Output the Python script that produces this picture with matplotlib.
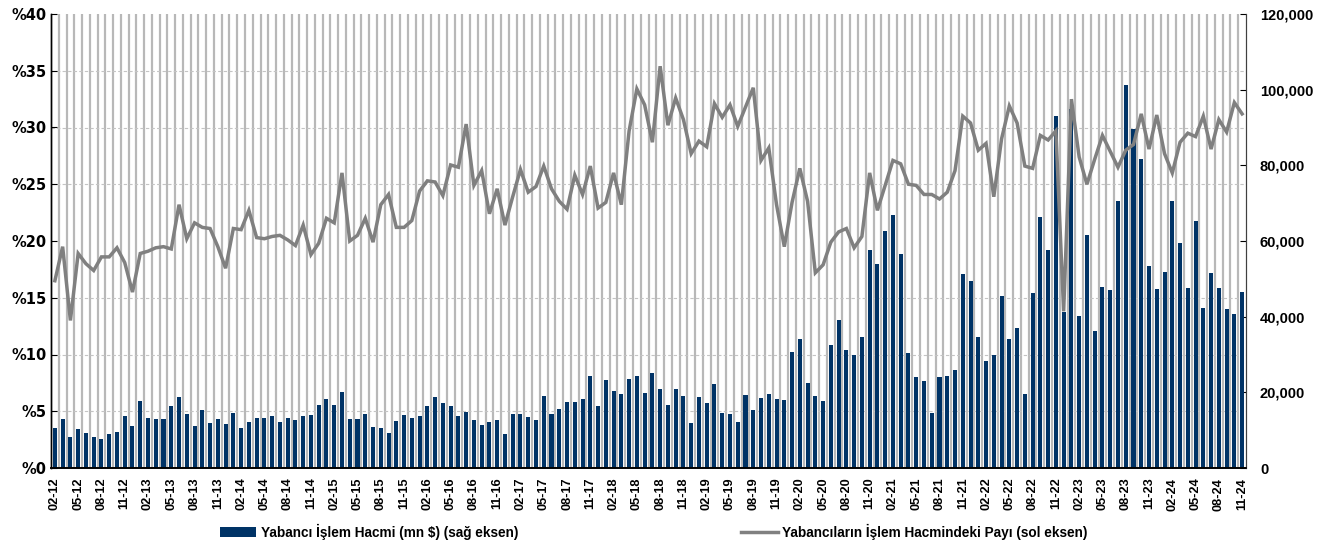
import numpy as np
import pandas as pd
import matplotlib
matplotlib.use("Agg")
import matplotlib.pyplot as plt
from matplotlib.ticker import MultipleLocator, FixedLocator, FuncFormatter

# monthly, 02-12 .. 11-24
months = pd.date_range("2012-02-01", periods=154, freq="MS").strftime("%m-%y").tolist()

# foreign trading volume, mn $ (right axis)
volume_mn_usd = [
    10660, 12950, 8280, 10310, 9160, 8280, 7660, 8900, 9430, 13830,
    11190, 17710, 13300, 12950, 12950, 16300, 18680, 14180, 11190, 15330,
    11800, 12950, 11540, 14540, 10660, 12070, 13300, 13300, 13650, 12070,
    13300, 12690, 13650, 13920, 16560, 18330, 16560, 20000, 12950, 12950,
    14180, 10930, 10660, 9160, 12340, 13920, 13300, 13650, 16300, 18680,
    17090, 16300, 13650, 14800, 12690, 11280, 12070, 12690, 8900, 14180,
    14180, 13570, 12690, 18940, 14180, 15680, 17440, 17440, 18330, 24230,
    16300, 23350, 20350, 19560, 23440, 24320, 19900, 25190, 20800, 16570,
    20800, 19030, 11900, 18770, 17260, 22280, 14540, 14270, 12160, 19200,
    15420, 18590, 19560, 18330, 18060, 30750, 34010, 22460, 18940, 17710,
    32510, 39030, 31100, 29870, 34620, 57620, 53830, 62720, 66870, 56560,
    30480, 23960, 23080, 14540, 23960, 24230, 25990, 51190, 49420, 34620,
    28370, 29870, 45550, 34010, 36910, 19560, 46160, 66260, 57620, 93120,
    41320, 95000, 40260, 61590, 36120, 47930, 47050, 70650, 101150, 89600,
    81580, 53390, 47310, 51800, 70650, 59390, 47660, 65370, 42290, 51450,
    47660, 42020, 40610, 46430,
]

# foreign share in trading volume, % (left axis)
foreign_share_pct = [
    16.5, 19.5, 13.0, 18.9, 18.0, 17.4, 18.6, 18.6, 19.4, 18.1,
    15.5, 18.9, 19.1, 19.4, 19.5, 19.3, 23.2, 20.2, 21.6, 21.2,
    21.1, 19.5, 17.6, 21.1, 21.0, 22.7, 20.3, 20.2, 20.4, 20.5,
    20.1, 19.6, 21.4, 18.8, 19.8, 22.0, 21.6, 26.0, 20.0, 20.5,
    22.0, 19.9, 23.2, 24.1, 21.2, 21.2, 21.8, 24.4, 25.3, 25.2,
    24.0, 26.7, 26.5, 30.3, 24.9, 26.2, 22.4, 24.6, 21.4, 23.9,
    26.3, 24.3, 24.8, 26.6, 24.6, 23.5, 22.8, 25.8, 24.1, 26.6,
    22.9, 23.4, 26.0, 23.2, 29.7, 33.4, 32.0, 28.7, 35.4, 30.2,
    32.6, 30.7, 27.7, 28.8, 28.3, 32.1, 30.9, 32.0, 30.1, 31.8,
    33.5, 27.1, 28.2, 23.2, 19.5, 23.4, 26.4, 23.5, 17.2, 17.9,
    19.9, 20.8, 21.1, 19.4, 20.4, 26.0, 22.7, 24.9, 27.1, 26.8,
    25.0, 24.9, 24.1, 24.1, 23.7, 24.3, 26.2, 31.0, 30.4, 28.0,
    28.6, 23.9, 29.0, 31.9, 30.4, 26.6, 26.4, 29.3, 28.9, 29.7,
    13.8, 32.5, 27.4, 25.0, 27.2, 29.3, 27.9, 26.5, 28.0, 28.5,
    31.2, 28.1, 31.1, 27.7, 26.0, 28.7, 29.5, 29.2, 31.0, 28.1,
    30.7, 29.6, 32.2, 31.2,
]

BAR_COLOR = "#003366"
LINE_COLOR = "#808080"
GRID_COLOR = "#b8b8b8"
ARIAL = "Liberation Sans"


def main():
    fig = plt.figure(figsize=(13.42, 5.43), dpi=100)
    ax = fig.add_axes([51 / 1342, 1 - 468 / 543, 1195 / 1342, 454 / 543])
    x = np.arange(len(months))

    bars = ax.bar(x, volume_mn_usd, width=0.52, color=BAR_COLOR, zorder=2)
    ax.set_xlim(-0.5, len(months) - 0.5)
    ax.set_ylim(0, 120000)
    ax.set_axisbelow(True)

    # vertical gray lines between months, dashed lines at the % ticks
    ax.xaxis.set_minor_locator(FixedLocator(x[:-1] + 0.5))
    ax.yaxis.set_minor_locator(MultipleLocator(15000))
    ax.grid(which="minor", axis="x", color=GRID_COLOR, lw=1.6, ls="-")
    ax.grid(which="minor", axis="y", color="#c4c4c4", lw=0.8, ls=(0, (3, 2)))
    ax.tick_params(which="minor", length=0)

    ax.set_xticks(x[::3])
    ax.set_xticklabels(months[::3], rotation=90, fontsize=9.2,
                       fontweight="bold", family=ARIAL)
    ax.tick_params(axis="x", which="major", direction="in", length=3, pad=7)

    ax2 = ax.twinx()
    ax.yaxis.tick_right()
    ax.yaxis.set_major_locator(MultipleLocator(20000))
    ax.yaxis.set_major_formatter(FuncFormatter(lambda v, p: f"{v:,.0f}"))
    ax.tick_params(axis="y", which="major", direction="in", length=4, pad=10,
                   labelsize=10.5)
    for t in ax.get_yticklabels():
        t.set_fontweight("bold")
        t.set_family(ARIAL)

    line, = ax2.plot(x, foreign_share_pct, color=LINE_COLOR, lw=2.5,
                     solid_joinstyle="miter")
    ax2.set_ylim(0, 40)
    ax2.yaxis.tick_left()
    ax2.yaxis.set_major_locator(MultipleLocator(5))
    ax2.yaxis.set_major_formatter(FuncFormatter(lambda v, p: f"%{v:.0f}"))
    ax2.tick_params(axis="y", direction="in", length=4, pad=3, labelsize=10.5)
    for t in ax2.get_yticklabels():
        t.set_fontweight("bold")
        t.set_family("DejaVu Sans")

    for a in (ax, ax2):
        a.spines["top"].set_visible(False)
        a.spines["left"].set_color("black")
        a.spines["bottom"].set_color("black")
        a.spines["right"].set_color("#404040")
        a.spines["left"].set_linewidth(1.0)
        a.spines["bottom"].set_linewidth(1.2)

    fig.legend([bars, line],
               ["Yabancı İşlem Hacmi (mn $) (sağ eksen)",
                "Yabancıların İşlem Hacmindeki Payı (sol eksen)"],
               ncol=2, loc="center", bbox_to_anchor=(0.487, 0.0203),
               frameon=False, handlelength=2.7, handletextpad=0.3,
               columnspacing=16.4, prop={"family": ARIAL, "weight": "bold", "size": 9.8})

    fig.savefig("out.png", dpi=100)
    plt.close(fig)


if __name__ == "__main__":
    main()
